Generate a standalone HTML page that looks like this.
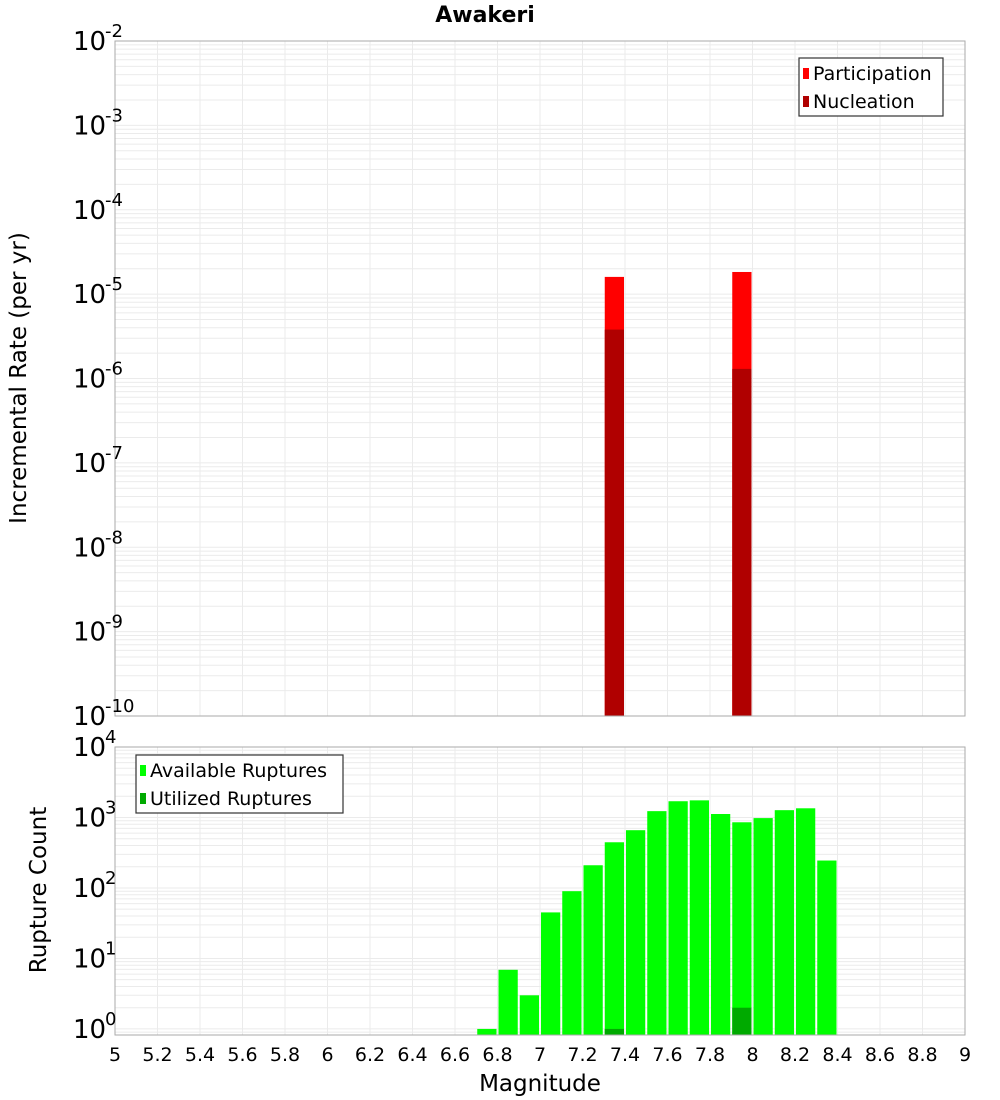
<!DOCTYPE html>
<html><head><meta charset="utf-8"><style>
body{margin:0;background:#fff;font-family:"DejaVu Sans","Liberation Sans",sans-serif}
svg{display:block}
</style></head><body>
<svg id="c" width="1000" height="1100" xmlns="http://www.w3.org/2000/svg"></svg>
<script>
const xTicks=[5,5.2,5.4,5.6,5.8,6,6.2,6.4,6.6,6.8,7,7.2,7.4,7.6,7.8,8,8.2,8.4,8.6,8.8,9];
const xTickLabels=["5","5.2","5.4","5.6","5.8","6","6.2","6.4","6.6","6.8","7","7.2","7.4","7.6","7.8","8","8.2","8.4","8.6","8.8","9"];
const rateMags=[7.35,7.95];
const participation=[1.6e-5,1.83e-5];
const nucleation=[3.8e-6,1.3e-6];
const countMags=[6.75,6.85,6.95,7.05,7.15,7.25,7.35,7.45,7.55,7.65,7.75,7.85,7.95,8.05,8.15,8.25,8.35];
const available=[1,6.9,3,45,90,210,445,660,1230,1700,1750,1120,855,980,1270,1350,245];
const utilizedMags=[7.35,7.95];
const utilized=[1,2];

const NS="http://www.w3.org/2000/svg";
const svg=document.getElementById('c');
function mk(tag,attrs,parent){const e=document.createElementNS(NS,tag);for(const k in attrs)e.setAttribute(k,attrs[k]);(parent||svg).appendChild(e);return e;}
const X0=115,X1=965;
const xs=v=>X0+(v-5)/(9-5)*(X1-X0);
const T0=41,T1=716,B0=747,B1=1035;
const ysTop=v=>T0+(-2-Math.log10(v))/8*(T1-T0);
const bMin=Math.log10(0.82);
const ysBot=v=>B0+(4-Math.log10(v))/(4-bMin)*(B1-B0);

function grid(y0,y1,lo,hi,ys){
  const g=mk('g',{});
  
  
  for(let d=lo;d<hi;d++)for(let m=1;m<10;m++){const v=m*Math.pow(10,d);const y=ys(v);if(y<y0||y>y1)continue;
    mk('line',{x1:X0,x2:X1,y1:y,y2:y,stroke:'#ebebeb','stroke-width':1},g);}
  xTicks.forEach(t=>{const x=xs(t);mk('line',{x1:x,x2:x,y1:y0,y2:y1,stroke:'#ebebeb','stroke-width':1},g);});
}
grid(T0,T1,-10,-2,ysTop);
grid(B0,B1,-1,4,ysBot);

let t=mk('text',{x:485,y:22,'font-size':22,'font-weight':'bold','text-anchor':'middle'});t.textContent='Awakeri';


rateMags.forEach((m,i)=>{
  let r=mk('rect',{x:xs(m-0.05)+1,y:ysTop(participation[i]),width:xs(m+0.05)-xs(m-0.05)-2,height:T1-ysTop(participation[i]),fill:'#ff0000'});
  
  r=mk('rect',{x:xs(m-0.05)+1,y:ysTop(nucleation[i]),width:xs(m+0.05)-xs(m-0.05)-2,height:T1-ysTop(nucleation[i]),fill:'#b00000'});
  
});
countMags.forEach((m,i)=>{
  const r=mk('rect',{x:xs(m-0.05)+1,y:ysBot(available[i]),width:xs(m+0.05)-xs(m-0.05)-2,height:B1-ysBot(available[i]),fill:'#00ff00'});
  
});
utilizedMags.forEach((m,i)=>{
  const r=mk('rect',{x:xs(m-0.05)+1,y:ysBot(utilized[i]),width:xs(m+0.05)-xs(m-0.05)-2,height:B1-ysBot(utilized[i]),fill:'#00aa00'});
  
});

let f=mk('rect',{x:X0,y:T0,width:X1-X0,height:T1-T0,fill:'none',stroke:'#aaa'});

f=mk('rect',{x:X0,y:B0,width:X1-X0,height:B1-B0,fill:'none',stroke:'#aaa'});


function pow(y,e,name){
  const tx=mk('text',{x:73,y:y,'font-size':26});
  
  tx.textContent='10';
  const s=mk('text',{x:105,y:y-13,'font-size':18});
  
  s.textContent=e;
}
for(let d=-2;d>=-10;d--){pow(ysTop(Math.pow(10,d))+9,String(d),'top-y-tick-label');}
for(let d=4;d>=0;d--){pow(ysBot(Math.pow(10,d))+9,String(d),'bottom-y-tick-label');}
xTicks.forEach((v,i)=>{const tx=mk('text',{x:xs(v),y:1061,'font-size':19,'text-anchor':'middle'});tx.textContent=xTickLabels[i];
  });
t=mk('text',{x:540,y:1091,'font-size':23,'text-anchor':'middle'});t.textContent='Magnitude';

t=mk('text',{x:0,y:0,'font-size':23,'text-anchor':'middle',transform:'translate(26,378) rotate(-90)'});t.textContent='Incremental Rate (per yr)';

t=mk('text',{x:0,y:0,'font-size':23,'text-anchor':'middle',transform:'translate(46,890) rotate(-90)'});t.textContent='Rupture Count';


function legend(x,y,w,items,name){const g=mk('g',{});
  mk('rect',{x:x,y:y,width:w,height:58,fill:'#fff',stroke:'#333','stroke-width':1.2},g);
  items.forEach((it,i)=>{mk('rect',{x:x+4,y:y+10+i*28,width:6,height:11,fill:it[1]},g);
    const tx=mk('text',{x:x+14,y:y+22+i*28,'font-size':19},g);tx.textContent=it[0];
    });}
legend(799,58,144,[['Participation','#ff0000'],['Nucleation','#b00000']],'top-legend');
legend(136,755,207,[['Available Ruptures','#00ff00'],['Utilized Ruptures','#00aa00']],'bottom-legend');
</script>
</body></html>
